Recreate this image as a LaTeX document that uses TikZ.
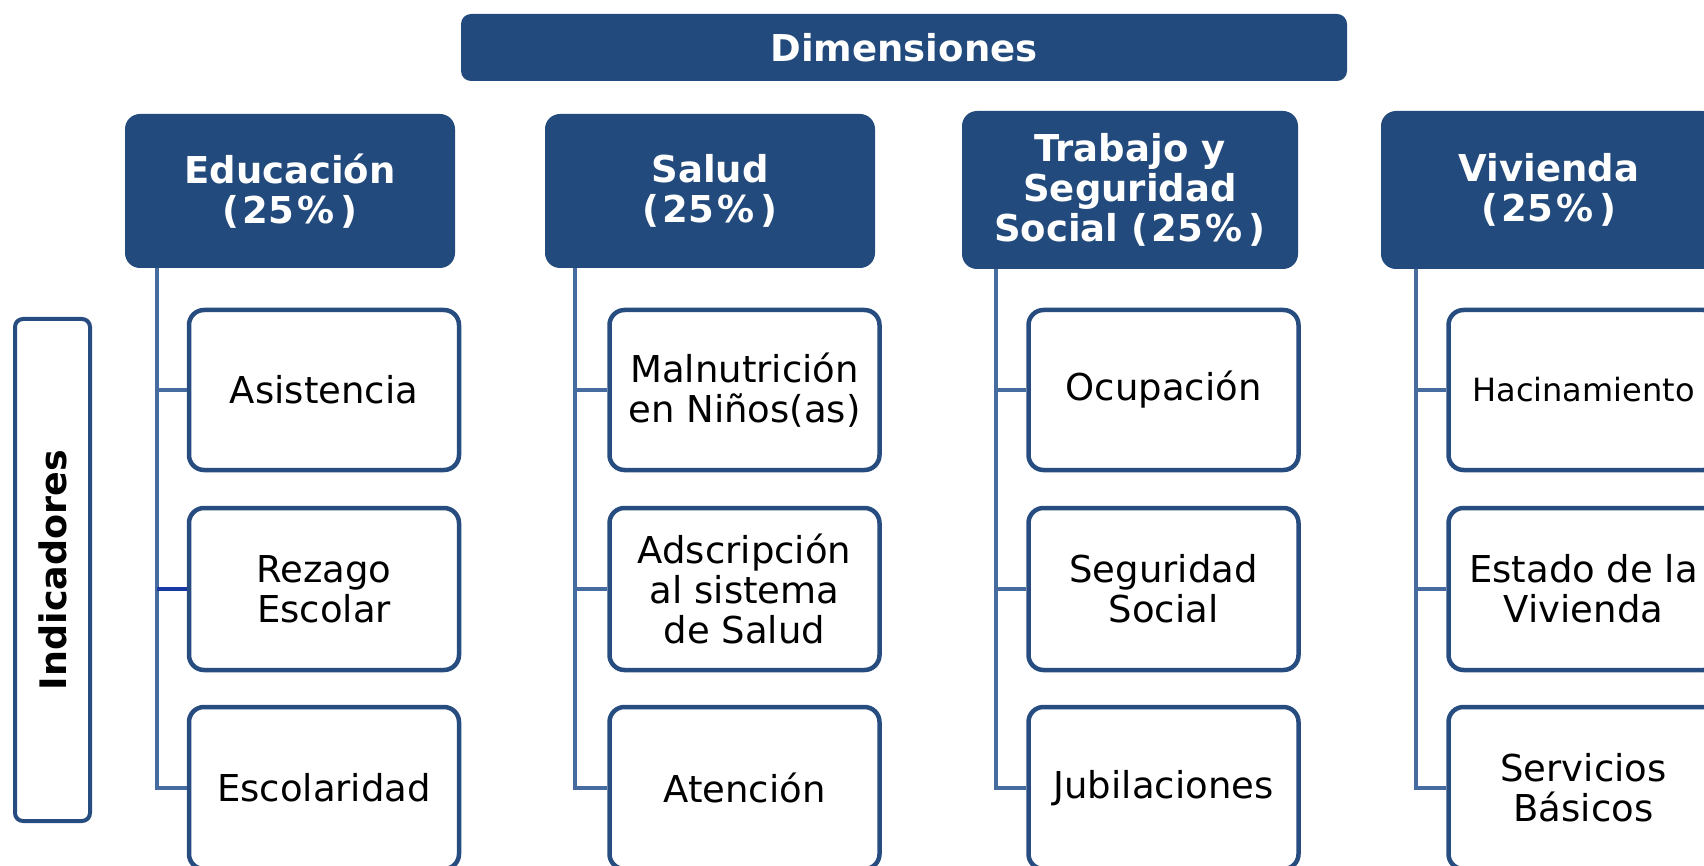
\documentclass[tikz,border=0pt]{standalone}
\usepackage{fontspec}
\setmainfont{DejaVu Sans}
\usetikzlibrary{backgrounds}
\definecolor{hdrblue}{RGB}{34,74,124}
\definecolor{boxblue}{RGB}{38,76,128}
\definecolor{linkblue}{RGB}{70,107,158}
\definecolor{rezblue}{RGB}{24,56,164}
\newcommand{\pct}{(\kern3pt25\kern3pt\%\kern3pt\kern3pt)}
\begin{document}
\begin{tikzpicture}[x=1pt,y=-1pt,
  hdr/.style={fill=hdrblue, rounded corners=15pt, text=white, align=center, inner sep=0pt,
    font=\bfseries\fontsize{37}{40}\selectfont},
  item/.style={draw=boxblue, line width=4.5pt, rounded corners=15pt, fill=white, align=center,
    inner sep=0pt, minimum width=270pt, font=\fontsize{37}{40}\selectfont},
  link/.style={draw=linkblue, line width=4.5pt}]
\useasboundingbox (0,0) rectangle (1704,866);
\clip (0,0) rectangle (1704,866);

\node[hdr, minimum width=886pt, minimum height=67pt, rounded corners=10pt] (dim) at (904,47.5) {Dimensiones};
\node[hdr, minimum width=330pt, minimum height=154pt] (edu) at (290,191) {Educación\\\pct};
\node[hdr, minimum width=330pt, minimum height=154pt] (sal) at (710,191) {Salud\\\pct};
\node[hdr, minimum width=336pt, minimum height=158pt] (tra) at (1130,190) {Trabajo y\\Seguridad\\Social \pct};
\node[hdr, minimum width=336pt, minimum height=158pt] (viv) at (1549,190) {Vivienda\\\pct};

\node[draw=boxblue, line width=4pt, rounded corners=8pt, rotate=90, minimum width=502pt, minimum height=75pt,
  inner sep=0pt, font=\bfseries\fontsize{36.5}{40}\selectfont] (ind) at (52.5,570) {Indicadores};

% column 1
\node[item, minimum height=160pt] (e1) at (324,390) {Asistencia};
\node[item, minimum height=162pt] (e2) at (324,589) {Rezago\\Escolar};
\node[item, minimum height=162pt] (e3) at (324,788) {Escolaridad};
% column 2
\node[item, minimum height=160pt] (s1) at (744.5,390) {Malnutrición\\en Niños(as)};
\node[item, minimum height=162pt] (s2) at (744.5,589) {Adscripción\\al sistema\\de Salud};
\node[item, minimum height=162pt] (s3) at (744.5,788) {Atención};
% column 3
\node[item, minimum height=160pt] (t1) at (1163.5,390) {Ocupación};
\node[item, minimum height=162pt] (t2) at (1163.5,589) {Seguridad\\Social};
\node[item, minimum height=162pt] (t3) at (1163.5,788) {Jubilaciones};
% column 4
\node[item, minimum height=160pt, font=\fontsize{32}{40}\selectfont] (h1) at (1583.5,390) {Hacinamiento};
\node[item, minimum height=162pt] (h2) at (1583.5,589) {Estado de la\\Vivienda};
\node[item, minimum height=162pt] (h3) at (1583.5,788) {Servicios\\Básicos};

\coordinate (v1) at (157,266);
\coordinate (v2) at (575,266);
\coordinate (v3) at (996,266);
\coordinate (v4) at (1416,266);

\begin{scope}[on background layer]
\draw[link] (v1) |- (e3.west);
\draw[link] (v1 |- e1.west) -- (e1.west);
\draw[link, draw=rezblue] (v1 |- e2.west) -- (e2.west);
\draw[link] (v2) |- (s3.west);
\draw[link] (v2 |- s1.west) -- (s1.west);
\draw[link] (v2 |- s2.west) -- (s2.west);
\draw[link] (v3) |- (t3.west);
\draw[link] (v3 |- t1.west) -- (t1.west);
\draw[link] (v3 |- t2.west) -- (t2.west);
\draw[link] (v4) |- (h3.west);
\draw[link] (v4 |- h1.west) -- (h1.west);
\draw[link] (v4 |- h2.west) -- (h2.west);
\end{scope}
\end{tikzpicture}
\end{document}
